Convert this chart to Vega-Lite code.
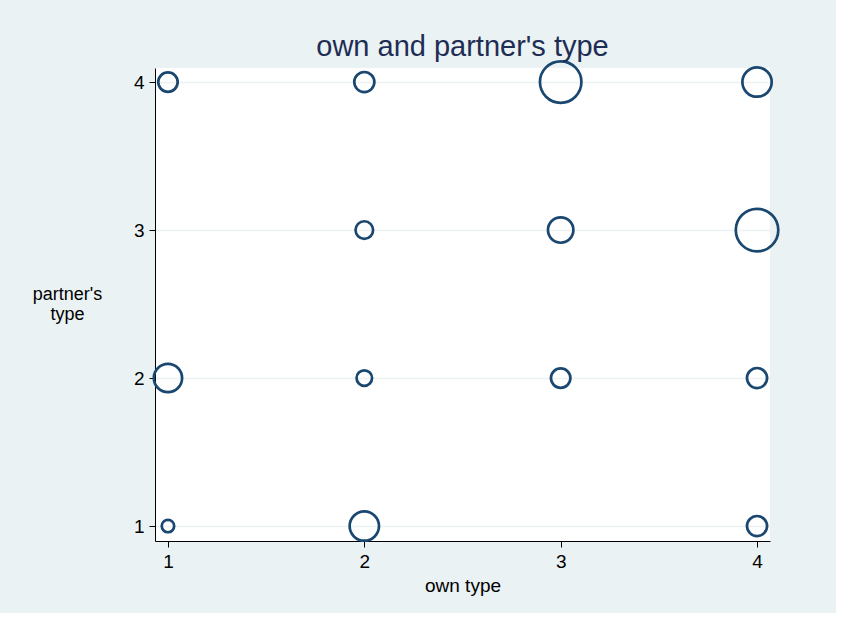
{
  "$schema": "https://vega.github.io/schema/vega-lite/v6.json",
  "autosize": {"type": "none"},
  "width": 615,
  "height": 473,
  "padding": {"left": 155, "top": 68, "right": 66, "bottom": 72},
  "background": "#eaf2f3",
  "title": {
    "text": "own and partner's type",
    "fontSize": 29,
    "font": "Liberation Sans",
    "fontWeight": "normal",
    "color": "#1e2d53",
    "anchor": "middle",
    "offset": -6
  },
  "config": {
    "view": {"fill": "white", "stroke": null},
    "font": "Liberation Sans"
  },
  "data": {
    "values": [
      {"own": 1, "partner": 1, "n": 1.8},
      {"own": 2, "partner": 1, "n": 10},
      {"own": 4, "partner": 1, "n": 4.7},
      {"own": 1, "partner": 2, "n": 9.3},
      {"own": 2, "partner": 2, "n": 2.8},
      {"own": 3, "partner": 2, "n": 4.4},
      {"own": 4, "partner": 2, "n": 4.7},
      {"own": 2, "partner": 3, "n": 3.6},
      {"own": 3, "partner": 3, "n": 7.5},
      {"own": 4, "partner": 3, "n": 21},
      {"own": 1, "partner": 4, "n": 4.4},
      {"own": 2, "partner": 4, "n": 4.7},
      {"own": 3, "partner": 4, "n": 20},
      {"own": 4, "partner": 4, "n": 10}
    ]
  },
  "mark": {"type": "point", "shape": "circle", "filled": false, "stroke": "#1a476f", "strokeWidth": 2.7, "opacity": 1, "clip": false},
  "encoding": {
    "x": {
      "field": "own", "type": "quantitative",
      "scale": {"domain": [0.934, 4.066], "nice": false, "zero": false},
      "axis": {
        "title": "own type", "values": [1, 2, 3, 4], "format": "d",
        "grid": false, "domainColor": "black", "domainWidth": 1,
        "tickColor": "black", "tickSize": 6, "tickWidth": 1,
        "labelFontSize": 19, "labelColor": "black", "labelPadding": 5,
        "titleFontSize": 19, "titleFontWeight": "normal", "titleColor": "black", "titlePadding": 5
      }
    },
    "y": {
      "field": "partner", "type": "quantitative",
      "scale": {"domain": [0.899, 4.095], "nice": false, "zero": false},
      "axis": {
        "title": ["partner's", "type"], "values": [1, 2, 3, 4], "format": "d",
        "grid": true, "gridColor": "#eaf2f3", "gridWidth": 1.5,
        "domainColor": "black", "domainWidth": 1,
        "tickColor": "black", "tickSize": 6, "tickWidth": 1,
        "labelFontSize": 19, "labelColor": "black", "labelPadding": 5,
        "titleFontSize": 18, "titleFontWeight": "normal", "titleColor": "black",
        "titleAngle": 0, "titleAlign": "center", "titleBaseline": "middle",
        "titleX": -88, "titleY": 226, "titleLineHeight": 20
      }
    },
    "size": {
      "field": "n", "type": "quantitative",
      "scale": {"domain": [0, 21], "range": [0, 1806], "zero": true},
      "legend": null
    }
  }
}
